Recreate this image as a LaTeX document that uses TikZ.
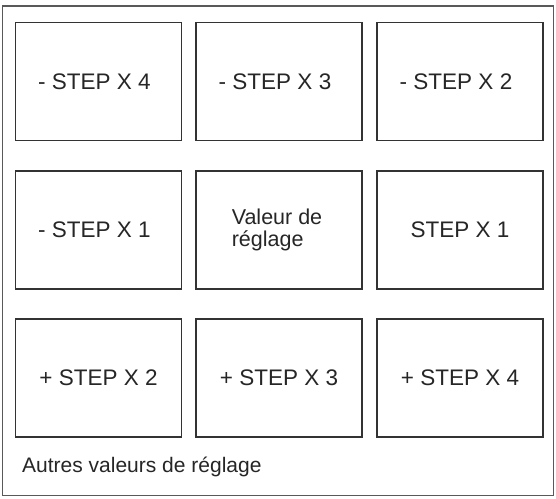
\documentclass[tikz,border=0pt]{standalone}
\usepackage{fontspec}
\setmainfont{Liberation Sans}
\begin{document}
\begin{tikzpicture}[x=1pt,y=-1pt,
  cell/.style={draw=black!80,line width=1.8pt,minimum width=166pt,minimum height=118pt,inner sep=0pt,font=\fontsize{22.5}{22}\selectfont,text=black!85},
  celltext/.style={inner sep=0pt,font=\fontsize{22.5}{22}\selectfont,text=black!85},
  frame/.style={draw=black!65,line width=1.8pt}]
\useasboundingbox (0,0) rectangle (556,498);
\fill[white] (0,0) rectangle (556,498);
\draw[frame] (2.5,6) rectangle (553.5,495.5);
% column centers 98.5, 279, 460 ; row centers 81.5, 230, 378
\node[cell] (a1) at (98.5,81.5) {};
\node[cell] (a2) at (279,81.5) {};
\node[cell] (a3) at (460,81.5) {};
\node[cell] (b1) at (98.5,230) {};
\node[cell] (b2) at (279,230) {};
\node[cell] (b3) at (460,230) {STEP X 1};
\node[cell] (c1) at (98.5,378) {+ STEP X 2};
\node[cell] (c2) at (279,378) {+ STEP X 3};
\node[cell] (c3) at (460,378) {+ STEP X 4};
\node[celltext,xshift=-4pt] (t1) at (a1) {- STEP X 4};
\node[celltext,xshift=-4pt] (t2) at (a2) {- STEP X 3};
\node[celltext,xshift=-4pt] (t3) at (a3) {- STEP X 2};
\node[celltext,xshift=-4pt] (t4) at (b1) {- STEP X 1};
\node[celltext,align=left,font=\fontsize{21.5}{22}\selectfont,xshift=-2pt] (t5) at (b2) {Valeur de\\réglage};
\node[anchor=base west,inner sep=0pt,font=\fontsize{21}{24}\selectfont,text=black!85] (lbl) at (22,472) {Autres valeurs de réglage};
\end{tikzpicture}
\end{document}
